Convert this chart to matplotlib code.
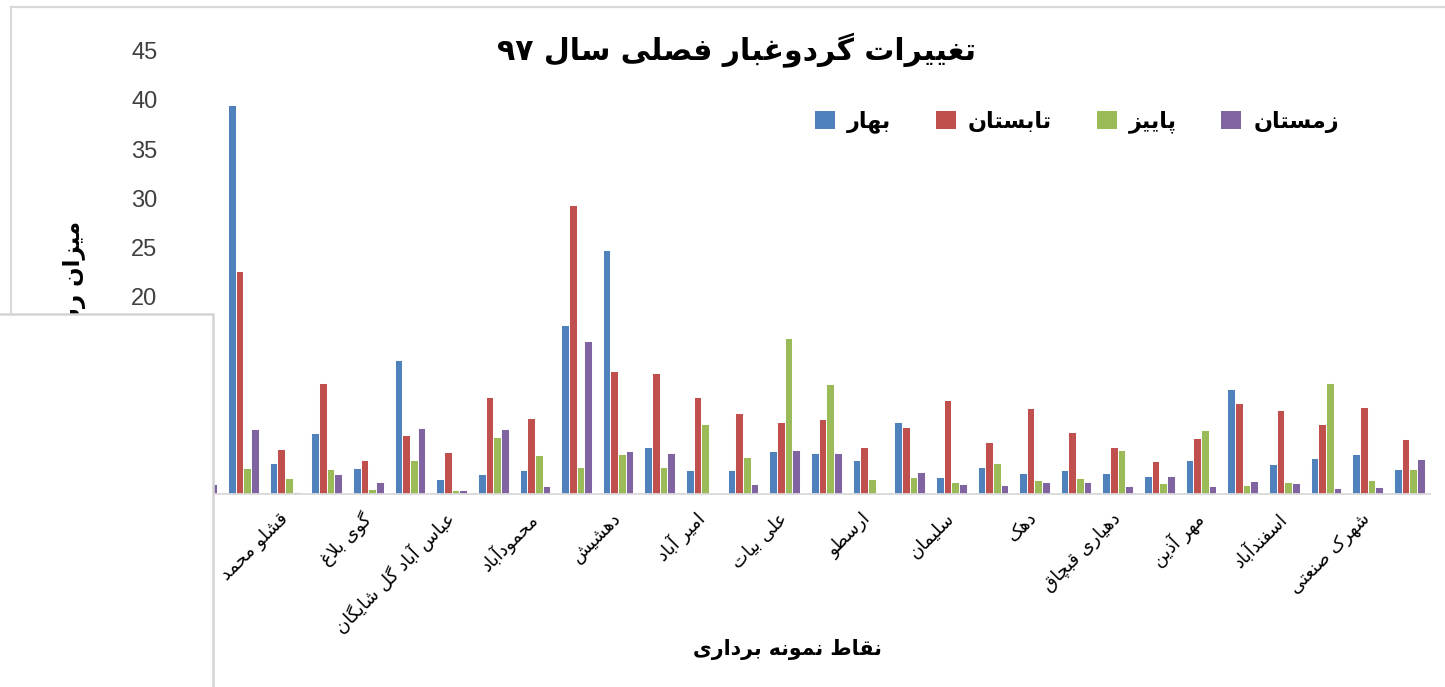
import numpy as np
import matplotlib
matplotlib.use("Agg")
import matplotlib.pyplot as plt
from matplotlib.patches import Rectangle
from matplotlib.lines import Line2D

# ---------------- data ----------------
title = "تغییرات گردوغبار فصلی سال ۹۷"
xlabel = "نقاط نمونه برداری"
ylabel = "میزان رسوب"
series_names = ["بهار", "تابستان", "پاییز", "زمستان"]
tick_labels = ["ایستگاه", "قشلو محمد", "گوی بلاغ", "عباس آباد گل شایگان", "محمودآباد",
               "دهشیش", "امیر آباد", "علی بیات", "ارسطو", "سلیمان", "دهک",
               "دهیاری قبچاق", "مهر آذین", "اسفندآباد", "شهرک صنعتی"]
spring = [3.0, 39.5, 3.1, 6.1, 2.6, 13.6, 1.5, 2.0, 2.35, 17.15, 24.7, 4.7, 2.4, 2.4, 4.3,
          4.15, 3.45, 7.25, 1.7, 2.7, 2.1, 2.35, 2.1, 1.75, 3.45, 10.6, 2.95, 3.65, 4.0, 2.5]
summer = [6.0, 22.6, 4.5, 11.2, 3.4, 5.9, 4.25, 9.8, 7.7, 29.3, 12.4, 12.2, 9.8, 8.15, 7.3,
          7.55, 4.7, 6.75, 9.5, 5.2, 8.65, 6.3, 4.7, 3.3, 5.65, 9.2, 8.5, 7.1, 8.75, 5.55]
autumn = [2.0, 2.6, 1.6, 2.5, 0.45, 3.4, 0.35, 5.7, 3.9, 2.7, 4.0, 2.7, 7.1, 3.7, 15.8,
          11.1, 1.45, 1.7, 1.2, 3.05, 1.4, 1.6, 4.45, 1.05, 6.5, 0.9, 1.15, 11.2, 1.4, 2.5]
winter = [0.95, 6.6, 0.2, 2.0, 1.2, 6.7, 0.35, 6.6, 0.8, 15.5, 4.3, 4.15, 0.1, 0.95, 4.4,
          4.15, 0.1, 2.15, 0.95, 0.9, 1.15, 1.15, 0.8, 1.75, 0.8, 1.3, 1.05, 0.55, 0.7, 3.55]
yticks = [0, 5, 10, 15, 20, 25, 30, 35, 40, 45]

# ---------------- simple Persian shaping ----------------
FORMS = {  # iso, fin, ini, med
    '\u0621': ('\uFE80', None, None, None),
    '\u0622': ('\uFE81', '\uFE82', None, None),
    '\u0623': ('\uFE83', '\uFE84', None, None),
    '\u0624': ('\uFE85', '\uFE86', None, None),
    '\u0625': ('\uFE87', '\uFE88', None, None),
    '\u0626': ('\uFE89', '\uFE8A', '\uFE8B', '\uFE8C'),
    '\u0627': ('\uFE8D', '\uFE8E', None, None),
    '\u0628': ('\uFE8F', '\uFE90', '\uFE91', '\uFE92'),
    '\u0629': ('\uFE93', '\uFE94', None, None),
    '\u062A': ('\uFE95', '\uFE96', '\uFE97', '\uFE98'),
    '\u062B': ('\uFE99', '\uFE9A', '\uFE9B', '\uFE9C'),
    '\u062C': ('\uFE9D', '\uFE9E', '\uFE9F', '\uFEA0'),
    '\u062D': ('\uFEA1', '\uFEA2', '\uFEA3', '\uFEA4'),
    '\u062E': ('\uFEA5', '\uFEA6', '\uFEA7', '\uFEA8'),
    '\u062F': ('\uFEA9', '\uFEAA', None, None),
    '\u0630': ('\uFEAB', '\uFEAC', None, None),
    '\u0631': ('\uFEAD', '\uFEAE', None, None),
    '\u0632': ('\uFEAF', '\uFEB0', None, None),
    '\u0633': ('\uFEB1', '\uFEB2', '\uFEB3', '\uFEB4'),
    '\u0634': ('\uFEB5', '\uFEB6', '\uFEB7', '\uFEB8'),
    '\u0635': ('\uFEB9', '\uFEBA', '\uFEBB', '\uFEBC'),
    '\u0636': ('\uFEBD', '\uFEBE', '\uFEBF', '\uFEC0'),
    '\u0637': ('\uFEC1', '\uFEC2', '\uFEC3', '\uFEC4'),
    '\u0638': ('\uFEC5', '\uFEC6', '\uFEC7', '\uFEC8'),
    '\u0639': ('\uFEC9', '\uFECA', '\uFECB', '\uFECC'),
    '\u063A': ('\uFECD', '\uFECE', '\uFECF', '\uFED0'),
    '\u0641': ('\uFED1', '\uFED2', '\uFED3', '\uFED4'),
    '\u0642': ('\uFED5', '\uFED6', '\uFED7', '\uFED8'),
    '\u0643': ('\uFED9', '\uFEDA', '\uFEDB', '\uFEDC'),
    '\u0644': ('\uFEDD', '\uFEDE', '\uFEDF', '\uFEE0'),
    '\u0645': ('\uFEE1', '\uFEE2', '\uFEE3', '\uFEE4'),
    '\u0646': ('\uFEE5', '\uFEE6', '\uFEE7', '\uFEE8'),
    '\u0647': ('\uFEE9', '\uFEEA', '\uFEEB', '\uFEEC'),
    '\u0648': ('\uFEED', '\uFEEE', None, None),
    '\u0649': ('\uFEEF', '\uFEF0', None, None),
    '\u064A': ('\uFEF1', '\uFEF2', '\uFEF3', '\uFEF4'),
    '\u067E': ('\uFB56', '\uFB57', '\uFB58', '\uFB59'),
    '\u0686': ('\uFB7A', '\uFB7B', '\uFB7C', '\uFB7D'),
    '\u0698': ('\uFB8A', '\uFB8B', None, None),
    '\u06A9': ('\uFB8E', '\uFB8F', '\uFB90', '\uFB91'),
    '\u06AF': ('\uFB92', '\uFB93', '\uFB94', '\uFB95'),
    '\u06CC': ('\uFBFC', '\uFBFD', '\uFBFE', '\uFBFF'),
}
LAMALEF = {'\u0627': ('\uFEFB', '\uFEFC'), '\u0622': ('\uFEF5', '\uFEF6'),
           '\u0623': ('\uFEF7', '\uFEF8'), '\u0625': ('\uFEF9', '\uFEFA')}


def joins_next(c):
    return c in FORMS and FORMS[c][2] is not None


def shape(s):
    chars = list(s)
    out = []
    i = 0
    n = len(chars)
    while i < n:
        c = chars[i]
        prev = chars[i - 1] if i > 0 else None
        jp = prev is not None and joins_next(prev) and c in FORMS
        if c == '\u0644' and i + 1 < n and chars[i + 1] in LAMALEF:
            lig = LAMALEF[chars[i + 1]]
            out.append(lig[1] if jp else lig[0])
            i += 2
            continue
        if c not in FORMS:
            out.append(c)
            i += 1
            continue
        nxt = chars[i + 1] if i + 1 < n else None
        jn = joins_next(c) and nxt is not None and nxt in FORMS
        iso, fin, ini, med = FORMS[c]
        if jp and jn:
            out.append(med)
        elif jp:
            out.append(fin if fin else iso)
        elif jn:
            out.append(ini)
        else:
            out.append(iso)
        i += 1
    vis = out[::-1]
    res = []
    run = []
    for ch in vis:
        if ch.isdigit():
            run.append(ch)
        else:
            if run:
                res.extend(run[::-1])
                run = []
            res.append(ch)
    if run:
        res.extend(run[::-1])
    return ''.join(res)


# ---------------- figure ----------------
W, H = 1445, 687
fig = plt.figure(figsize=(W / 100, H / 100), dpi=100)
fig.patch.set_facecolor('white')

left_px, right_px, top_px, bot_px = 181, 1430, 50.7, 493.5
ax = fig.add_axes([left_px / W, 1 - bot_px / H, (right_px - left_px) / W, (bot_px - top_px) / H])

colors = ['#4F81BD', '#C0504D', '#9BBB59', '#8064A2']
values = [spring, summer, autumn, winter]
n = len(spring)
x = np.arange(n)
bw = 0.184
handles = []
for k, (vals, col) in enumerate(zip(values, colors)):
    ax.bar(x + (k - 1.5) * bw, vals, width=bw, color=col,
           edgecolor='white', linewidth=0.7, zorder=2)
    handles.append(Rectangle((0, 0), 1, 1, facecolor=col, edgecolor='none'))

ax.set_xlim(-0.5, n - 0.5)
ax.set_ylim(0, 45)
ax.set_yticks(yticks)
ax.set_yticklabels([str(v) for v in yticks], fontsize=17, color='#404040',
                   family='Liberation Sans')
ax.tick_params(axis='y', length=0, pad=17)
ax.set_xticks(x[::2])
ax.set_xticklabels([shape(t) for t in tick_labels], rotation=45, ha='right',
                   va='center', rotation_mode='anchor', fontsize=13,
                   family='DejaVu Sans', color='black')
ax.tick_params(axis='x', length=0, pad=16)
for s in ['top', 'right', 'left']:
    ax.spines[s].set_visible(False)
ax.spines['bottom'].set_color('#D9D9D9')
ax.spines['bottom'].set_linewidth(1.3)

# title, axis titles
fig.text(737 / W, 1 - 50 / H, shape(title), ha='center', va='center',
         fontsize=21.5, fontweight='bold', family='DejaVu Sans')
fig.text(787 / W, 1 - 649 / H, shape(xlabel), ha='center', va='center',
         fontsize=14.8, fontweight='bold', family='DejaVu Sans')
fig.text(75 / W, 1 - 221 / H, shape(ylabel), ha='center', va='top', rotation=90,
         fontsize=16.5, fontweight='bold', family='DejaVu Sans')

# legend
fig.legend(handles, [shape(s) for s in series_names], loc='center',
           bbox_to_anchor=(1077 / W, 1 - 122 / H), ncol=4, frameon=False,
           prop={'family': 'DejaVu Sans', 'weight': 'bold', 'size': 16},
           handlelength=0.9, handleheight=0.9, handletextpad=0.55,
           columnspacing=2.0)

# outer chart frame (partially visible)
fig.add_artist(Line2D([11 / W, 1], [1 - 7 / H, 1 - 7 / H], color='#D9D9D9', lw=1.6,
                      transform=fig.transFigure))
fig.add_artist(Line2D([11 / W, 11 / W], [1 - 7 / H, 0], color='#D9D9D9', lw=1.6,
                      transform=fig.transFigure))

# overlapping white panel at lower left
fig.add_artist(Rectangle((-0.01, -0.01), (212.5 / W) + 0.01, (1 - 314 / H) + 0.01,
                         facecolor='white', edgecolor='#D4D4D4', lw=1.8,
                         transform=fig.transFigure, zorder=10))

fig.savefig('out.png', dpi=100)
